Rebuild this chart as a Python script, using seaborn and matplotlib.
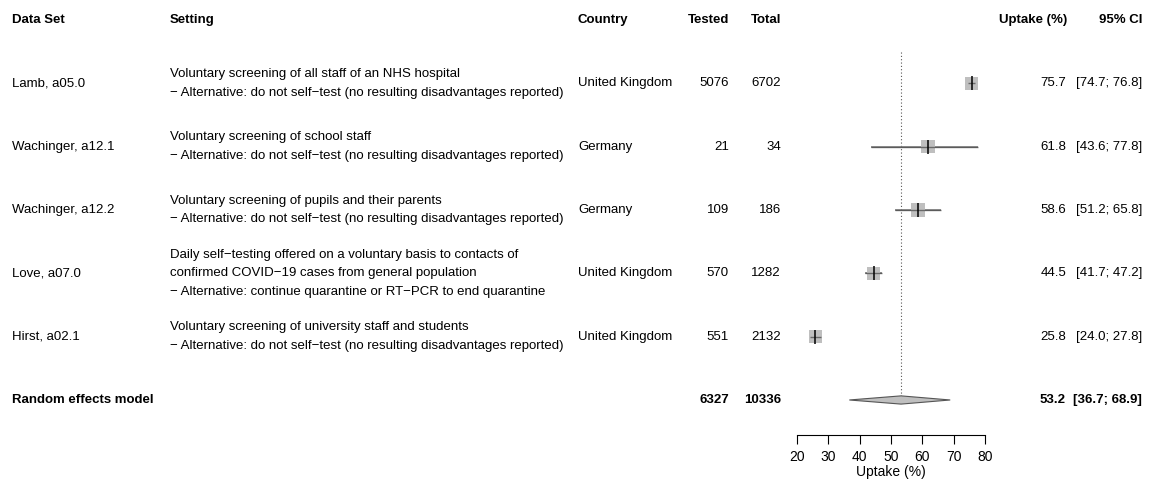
import matplotlib
matplotlib.use("Agg")
import matplotlib.pyplot as plt
import matplotlib.transforms as mtransforms
import seaborn as sns
import pandas as pd

# study data
datasets = ["Lamb, a05.0", "Wachinger, a12.1", "Wachinger, a12.2", "Love, a07.0", "Hirst, a02.1"]
settings = [
    "Voluntary screening of all staff of an NHS hospital\n\u2212 Alternative: do not self\u2212test (no resulting disadvantages reported)",
    "Voluntary screening of school staff\n\u2212 Alternative: do not self\u2212test (no resulting disadvantages reported)",
    "Voluntary screening of pupils and their parents\n\u2212 Alternative: do not self\u2212test (no resulting disadvantages reported)",
    "Daily self\u2212testing offered on a voluntary basis to contacts of\nconfirmed COVID\u221219 cases from general population\n\u2212 Alternative: continue quarantine or RT\u2212PCR to end quarantine",
    "Voluntary screening of university staff and students\n\u2212 Alternative: do not self\u2212test (no resulting disadvantages reported)",
]
countries = ["United Kingdom", "Germany", "Germany", "United Kingdom", "United Kingdom"]
tested = [5076, 21, 109, 570, 551]
total = [6702, 34, 186, 1282, 2132]
uptake = [75.7, 61.8, 58.6, 44.5, 25.8]
ci_low = [74.7, 43.6, 51.2, 41.7, 24.0]
ci_high = [76.8, 77.8, 65.8, 47.2, 27.8]

# random effects model
pooled_label = "Random effects model"
pooled_tested = 6327
pooled_total = 10336
pooled = 53.2
pooled_low = 36.7
pooled_high = 68.9

xticks = [20, 30, 40, 50, 60, 70, 80]

df = pd.DataFrame({"uptake": uptake, "row": range(1, len(uptake) + 1)})

sns.set_style("white")
plt.rcParams["font.family"] = ["Liberation Sans", "DejaVu Sans"]
plt.rcParams["text.color"] = "black"
plt.rcParams["axes.labelcolor"] = "black"
FS = 9.5

fig = plt.figure(figsize=(11.5, 4.79), dpi=100)
ax = fig.add_axes([797 / 1150, 44 / 479, 188 / 1150, 435 / 479])

n = len(uptake)
pooled_row = n + 1

# reference line at pooled estimate
ax.vlines(pooled, 0.5, pooled_row, colors="#555555", linestyles=(0, (1, 2)), linewidth=0.8)

# confidence intervals
ax.hlines(df["row"], ci_low, ci_high, colors="#7f7f7f", linewidth=1.2, zorder=2)
# squares
sns.scatterplot(data=df, x="uptake", y="row", marker="s", s=90, color="#bfbfbf",
                edgecolor="none", ax=ax, zorder=3, legend=False)
ax.hlines(df["row"], ci_low, ci_high, colors="#444444", linewidth=1.0, zorder=4,
          alpha=0.7)
ax.scatter(uptake, df["row"], marker="|", s=100, color="black", linewidths=1.1, zorder=5)

# diamond
dh = 0.065
ax.fill([pooled_low, pooled, pooled_high, pooled], [pooled_row, pooled_row - dh, pooled_row, pooled_row + dh],
        facecolor="#bfbfbf", edgecolor="#555555", linewidth=0.8, zorder=3)

ax.set_xlim(20, 80)
ax.set_ylim(6 + 35 / 63.3, -20 / 63.3)
ax.set_xticks(xticks)
ax.set_yticks([])
for s in ["left", "right", "top"]:
    ax.spines[s].set_visible(False)
ax.spines["bottom"].set_linewidth(0.8)
ax.spines["bottom"].set_color("black")
ax.tick_params(axis="x", direction="out", length=6.5, width=0.8, pad=4, labelsize=FS + 0.5,
               bottom=True, colors="black")
ax.set_xlabel("Uptake (%)", fontsize=FS + 0.5, labelpad=1)
ax.set_ylabel("")

tr = mtransforms.blended_transform_factory(fig.transFigure, ax.transData)


def put(xpx, y, s, ha="left", bold=False):
    ax.text(xpx / 1150, y, s, transform=tr, ha=ha, va="center", fontsize=FS,
            fontweight="bold" if bold else "normal", linespacing=1.72, clip_on=False,
            color="black")


# header
put(12, 0, "Data Set", bold=True)
put(170, 0, "Setting", bold=True)
put(578, 0, "Country", bold=True)
put(729, 0, "Tested", ha="right", bold=True)
put(781, 0, "Total", ha="right", bold=True)
put(1067, 0, "Uptake (%)", ha="right", bold=True)
put(1142, 0, "95% CI", ha="right", bold=True)

for i in range(n):
    r = i + 1
    put(12, r, datasets[i])
    put(170, r, settings[i])
    put(578, r, countries[i])
    put(729, r, str(tested[i]), ha="right")
    put(781, r, str(total[i]), ha="right")
    put(1066, r, f"{uptake[i]:.1f}", ha="right")
    put(1142, r, f"[{ci_low[i]:.1f}; {ci_high[i]:.1f}]", ha="right")

put(12, pooled_row, pooled_label, bold=True)
put(729, pooled_row, str(pooled_tested), ha="right", bold=True)
put(781, pooled_row, str(pooled_total), ha="right", bold=True)
put(1066, pooled_row, f"{pooled:.1f}", ha="right", bold=True)
put(1142, pooled_row, f"[{pooled_low:.1f}; {pooled_high:.1f}]", ha="right", bold=True)

fig.savefig("out.png", dpi=100)
